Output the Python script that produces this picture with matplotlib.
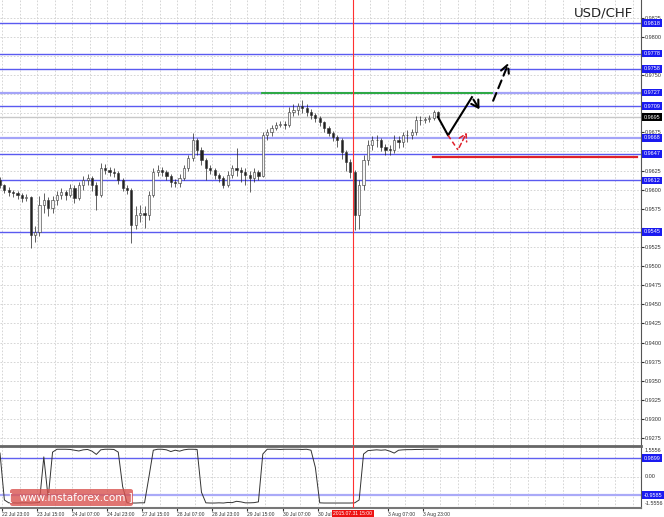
import matplotlib
matplotlib.use("Agg")
import matplotlib.pyplot as plt
from matplotlib.patches import FancyBboxPatch
from matplotlib.transforms import blended_transform_factory
import numpy as np

# 2-hour candles, prices in pips (1e-4)
first_open = 9612
closes = [9606, 9600, 9597, 9596, 9593, 9589, 9590, 9541, 9545, 9580,
          9586, 9576, 9586, 9593, 9597, 9593, 9602, 9589, 9606, 9613,
          9615, 9606, 9593, 9628, 9626, 9623, 9622, 9613, 9602, 9600,
          9554, 9567, 9570, 9567, 9593, 9623, 9626, 9623, 9618, 9610,
          9609, 9615, 9628, 9641, 9665, 9652, 9639, 9628, 9626, 9619,
          9615, 9606, 9619, 9628, 9626, 9623, 9619, 9615, 9623, 9618,
          9671, 9675, 9681, 9685, 9686, 9685, 9702, 9704, 9709, 9707,
          9702, 9698, 9694, 9688, 9681, 9674, 9669, 9665, 9649, 9636,
          9623, 9567, 9606, 9639, 9658, 9665, 9665, 9656, 9652, 9652,
          9665, 9662, 9671, 9671, 9675, 9691, 9691, 9692, 9694, 9701,
          9695]
highs = [9616, 9608, 9603, 9600, 9598, 9595, 9594, 9592, 9552, 9592,
         9596, 9590, 9592, 9598, 9602, 9600, 9608, 9606, 9610, 9618,
         9620, 9618, 9610, 9635, 9633, 9630, 9628, 9624, 9615, 9606,
         9602, 9578, 9580, 9578, 9598, 9628, 9632, 9630, 9626, 9620,
         9614, 9620, 9632, 9646, 9674, 9668, 9656, 9642, 9632, 9628,
         9622, 9618, 9624, 9632, 9654, 9630, 9628, 9624, 9628, 9626,
         9676, 9680, 9685, 9688, 9690, 9690, 9708, 9712, 9714, 9717,
         9712, 9705, 9700, 9696, 9690, 9683, 9677, 9672, 9667, 9652,
         9640, 9626, 9612, 9645, 9665, 9670, 9672, 9668, 9660, 9658,
         9672, 9670, 9676, 9678, 9680, 9696, 9696, 9695, 9698, 9704,
         9703]
lows = [9602, 9596, 9592, 9591, 9588, 9584, 9585, 9524, 9532, 9540,
        9570, 9565, 9570, 9580, 9588, 9586, 9590, 9582, 9586, 9600,
        9606, 9598, 9573, 9590, 9620, 9618, 9616, 9608, 9598, 9594,
        9530, 9548, 9558, 9550, 9560, 9590, 9618, 9618, 9612, 9604,
        9603, 9604, 9612, 9624, 9638, 9645, 9632, 9613, 9620, 9614,
        9610, 9602, 9604, 9615, 9618, 9610, 9606, 9597, 9610, 9612,
        9616, 9665, 9670, 9678, 9682, 9680, 9682, 9696, 9698, 9700,
        9696, 9692, 9688, 9683, 9676, 9670, 9664, 9656, 9640, 9625,
        9615, 9547, 9548, 9600, 9632, 9652, 9656, 9650, 9646, 9645,
        9648, 9654, 9656, 9662, 9666, 9672, 9685, 9687, 9689, 9691,
        9692]
candle_step = 2  # hourly bars per candle

# indicator values at each candle
indicator = [1.25, -1.2, -1.35, -1.35, -1.36, -1.35, -1.35, -1.36, -1.35, -1.33,
             1.05, -1.1, 1.3, 1.45, 1.45, 1.45, 1.44, 1.40, 1.36, 1.42,
             1.44, 1.35, 1.18, 1.42, 1.45, 1.45, 1.44, 1.30, -0.5, -1.35,
             -1.36, -1.36, -1.35, -1.35, 0.0, 1.40, 1.45, 1.45, 1.42, 1.33,
             1.40, 1.35, 1.42, 1.45, 1.45, 1.44, -0.8, -1.35, -1.36, -1.36,
             -1.35, -1.36, -1.33, -1.34, -1.27, -1.30, -1.35, -1.35, -1.34, -1.30,
             1.20, 1.45, 1.45, 1.45, 1.44, 1.45, 1.45, 1.45, 1.45, 1.44,
             1.45, 1.40, 0.5, -1.35, -1.36, -1.36, -1.36, -1.36, -1.36, -1.36,
             -1.36, -1.35, -1.20, 1.20, 1.38, 1.40, 1.42, 1.40, 1.42, 1.35,
             1.25, 1.40, 1.42, 1.43, 1.43, 1.44, 1.44, 1.45, 1.45, 1.45,
             1.45]

levels = [0.9818, 0.9778, 0.9758, 0.9727, 0.9709, 0.9668, 0.9647, 0.9612, 0.9545]
light_levels = [0.9727, 0.9668]
current_price = 0.9695
ind_levels = [0.9899, -0.9585]
ind_bounds = [1.5556, -1.5556]

# forecast paths (bar index, price)
path_bars = [200, 204.6, 215.5, 219.6]
path_prices = [0.9695, 0.9671, 0.9721, 0.9702]
up_bars = [224.7, 232.9]
up_prices = [0.9713, 0.9770]
alt_bars = [204.6, 209.1, 213.7]
alt_prices = [0.9671, 0.9652, 0.9678]
resist_bars = [119.6, 224.7]
resist_price = 0.9727
support_bars = [197.7, 291]
support_price = 0.9643
event_bar = 161
event_label = "2015.07.31 15:00"

tick_bars = [1, 17, 33, 49, 65, 81, 97, 113, 129, 145, 177, 193]
tick_labels = ["22 Jul 23:00", "23 Jul 15:00", "24 Jul 07:00", "24 Jul 23:00",
               "27 Jul 15:00", "28 Jul 07:00", "28 Jul 23:00", "29 Jul 15:00",
               "30 Jul 07:00", "30 Jul 23:00", "3 Aug 07:00", "3 Aug 23:00"]

W, H = 664, 517
fig = plt.figure(figsize=(W / 100, H / 100), dpi=100)
plt.rcParams['font.family'] = ['Liberation Sans', 'DejaVu Sans']

axw = 641 / W
ax = fig.add_axes([0, (H - 445) / H, axw, 445 / H])
axi = fig.add_axes([0, 9 / H, axw, 62 / H])

xmax = 641 / 2.19
for a in (ax, axi):
    a.set_xlim(0, xmax)
    a.spines['left'].set_visible(False)
    a.spines['right'].set_color('#555555')
    a.set_facecolor('white')
    for b in range(1, int(xmax), 8):
        a.axvline(b, color='#cfcfcf', lw=0.6, ls=(0, (2, 2)), zorder=0)

ax.spines['top'].set_visible(False)
ax.spines['bottom'].set_visible(False)
ax.set_ylim(0.92660, 0.98481)
yt = np.arange(0.9275, 0.9826, 0.0025)
boxed = levels + [current_price]
ax.set_yticks(yt)
ax.set_yticklabels(["" if min(abs(v - b) for b in boxed) < 0.00065 else f"{v:.4f}"
                    for v in yt])
for v in yt:
    ax.axhline(v, color='#cfcfcf', lw=0.6, ls=(0, (2, 2)), zorder=0)
ax.yaxis.tick_right()
ax.tick_params(axis='y', labelsize=4, length=2, pad=1, colors='#333333')
ax.set_xticks([])

# level lines
ax.axhline(current_price, color='#c8c8c8', lw=1, zorder=1)
for lv in levels:
    if lv in light_levels:
        ax.axhline(lv, color='#a4a4f8', lw=1.6, zorder=1)
    else:
        ax.axhline(lv, color='#5a5af0', lw=1, zorder=1)

# candles
xs = np.arange(len(closes)) * candle_step
opens = [first_open] + closes[:-1]
for x, o, c, hi, lo in zip(xs, opens, closes, highs, lows):
    ax.vlines(x, lo / 1e4, hi / 1e4, color='#222222', lw=0.5, zorder=3)
    bottom = min(o, c) / 1e4
    height = max(abs(c - o), 0.6) / 1e4
    fc = '#f4f4f4' if c > o else '#222222'
    ax.bar(x, height, bottom=bottom, width=1.0, facecolor=fc,
           edgecolor='#333333', linewidth=0.4, zorder=4)

# resistance / support lines
ax.plot(resist_bars, [resist_price] * 2, color='#22aa33', lw=1.3, zorder=2)
ax.plot(support_bars, [support_price] * 2, color='#e0202a', lw=1.6, zorder=2)

# forecast
ax.plot(path_bars[:-1], path_prices[:-1], color='black', lw=1.5, zorder=5)
ax.annotate('', xy=(path_bars[-1], path_prices[-1]),
            xytext=(path_bars[-2], path_prices[-2]),
            arrowprops=dict(arrowstyle='->,head_length=0.5,head_width=0.3',
                            color='black', lw=1.5), zorder=5)
ax.annotate('', xy=(up_bars[1], up_prices[1]), xytext=(up_bars[0], up_prices[0]),
            arrowprops=dict(arrowstyle='->,head_length=0.6,head_width=0.3',
                            color='black', lw=1.5, ls=(0, (4, 2.5))), zorder=5)
ax.plot(alt_bars[:-1], alt_prices[:-1], color='#e0202a', lw=1.1,
        ls=(0, (3, 2)), zorder=5)
ax.annotate('', xy=(alt_bars[-1], alt_prices[-1]), xytext=(alt_bars[-2], alt_prices[-2]),
            arrowprops=dict(arrowstyle='->,head_length=0.5,head_width=0.3',
                            color='#e0202a', lw=1.1, ls=(0, (3, 2))), zorder=5)

ax.axvline(event_bar, color='#ff3030', lw=0.8, zorder=6)
axi.axvline(event_bar, color='#ff3030', lw=0.8, zorder=6)

ax.text(633 / 641, 1 - 13 / 445, "USD/CHF", transform=ax.transAxes,
        ha='right', va='center', fontsize=9.5, color='#222222',
        family='DejaVu Sans')

# right-hand price boxes
tr = blended_transform_factory(ax.transAxes, ax.transData)
for lv in levels:
    ax.text(1.004, lv, f"{lv:.4f}", transform=tr, ha='left', va='center',
            fontsize=4, color='white', clip_on=False, zorder=10,
            bbox=dict(boxstyle='square,pad=0.25', fc='#1a1af0', ec='none'))
ax.text(1.004, current_price, f"{current_price:.4f}", transform=tr, ha='left',
        va='center', fontsize=4, color='white', clip_on=False, zorder=10,
        bbox=dict(boxstyle='square,pad=0.25', fc='black', ec='none'))

# indicator panel
axi.plot(xs, indicator, color='#333333', lw=0.7, zorder=3)
axi.set_ylim(-1.62, 1.62)
axi.axhline(ind_levels[0], color='#6060f0', lw=1, zorder=1)
axi.axhline(ind_levels[1], color='#aaaaf8', lw=1.6, zorder=1)
axi.axhline(0, color='#cfcfcf', lw=0.6, ls=(0, (2, 2)), zorder=0)
axi.spines['top'].set_color('#666666')
axi.spines['top'].set_linewidth(2)
axi.spines['bottom'].set_color('#777777')
axi.spines['bottom'].set_linewidth(1.5)
axi.set_yticks([])
tri = blended_transform_factory(axi.transAxes, axi.transData)
for v, lab in [(1.40, f"{ind_bounds[0]:.4f}"), (0, "0.00"), (-1.40, f"{ind_bounds[1]:.4f}")]:
    axi.text(1.006, v, lab, transform=tri, ha='left', va='center', fontsize=4,
             color='#333333', clip_on=False)
for v in ind_levels:
    axi.text(1.004, v, f"{v:.4f}", transform=tri, ha='left', va='center',
             fontsize=4, color='white', clip_on=False, zorder=10,
             bbox=dict(boxstyle='square,pad=0.25', fc='#1a1af0', ec='none'))

axi.set_xticks(tick_bars)
axi.set_xticklabels(tick_labels, ha='left')
axi.tick_params(axis='x', labelsize=3.6, length=2, pad=1, colors='#333333')
trx = blended_transform_factory(axi.transData, axi.transAxes)
axi.text(event_bar, -0.09, event_label, transform=trx, ha='center', va='center',
         fontsize=3.6, color='white', clip_on=False, zorder=10,
         bbox=dict(boxstyle='square,pad=0.3', fc='#ee1111', ec='none'))

# watermark
fig.patches.append(FancyBboxPatch((10 / W, 1 - 506 / H), 123 / W, 17 / H,
                                  boxstyle='round,pad=0,rounding_size=0.004',
                                  transform=fig.transFigure, fc='#d9534f',
                                  ec='none', alpha=0.8, zorder=20))
fig.text(71 / W, 1 - 497.5 / H, "[  www.instaforex.com ]", ha='center',
         va='center', fontsize=7.5, color='white', zorder=21,
         family='DejaVu Sans')

fig.savefig("out.png", dpi=100, facecolor='white')
